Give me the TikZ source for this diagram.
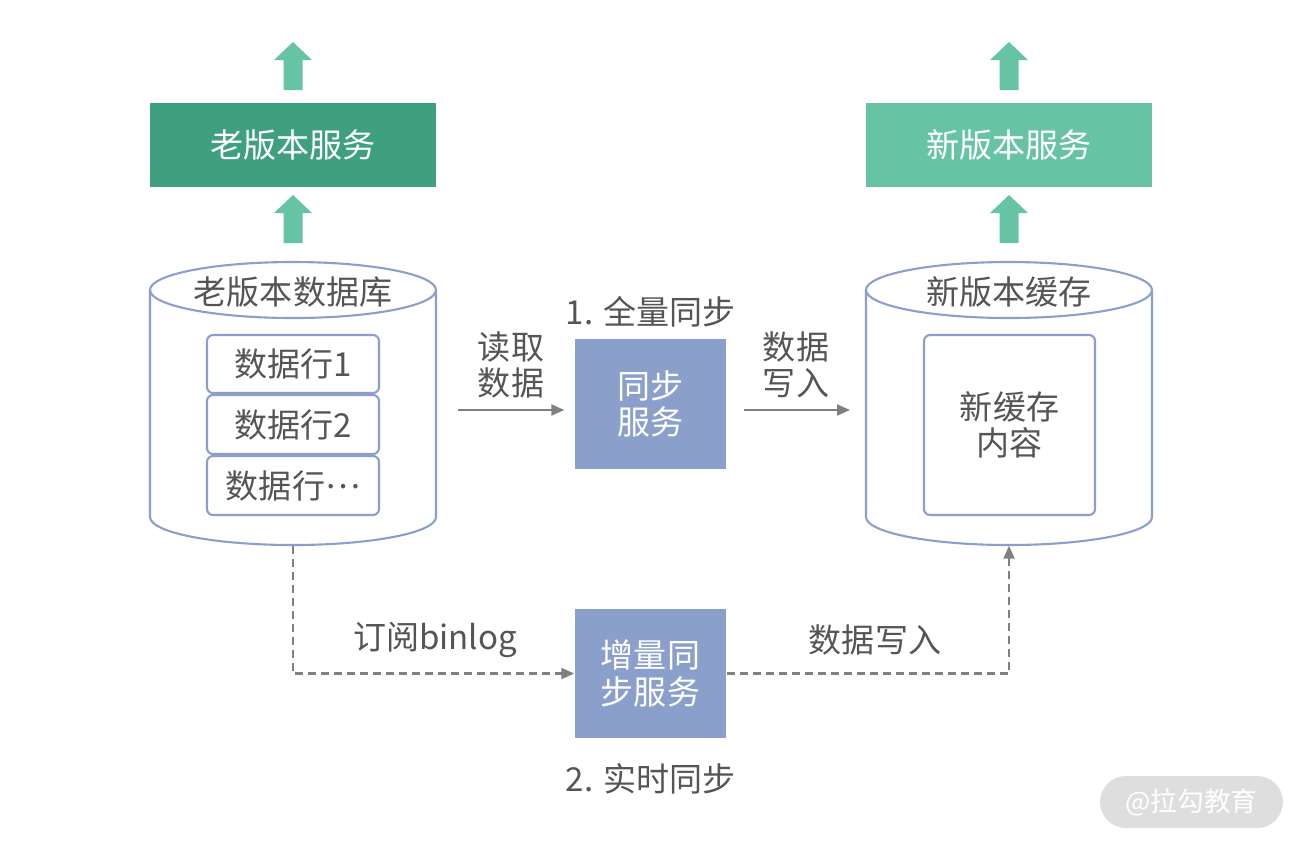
\documentclass[tikz,border=0pt]{standalone}
\usepackage{fontspec}
\setmainfont{Noto Sans CJK SC}
\usetikzlibrary{positioning,arrows.meta}
\definecolor{oldgreen}{HTML}{3FA07F}
\definecolor{newgreen}{HTML}{66C4A5}
\definecolor{syncblue}{HTML}{8B9FCB}
\definecolor{cylline}{HTML}{8C9FCC}
\definecolor{txtgray}{HTML}{555555}
\definecolor{flowgray}{HTML}{808080}
\definecolor{wmgray}{HTML}{DEDEDE}
\tikzset{
  txt/.style={text=txtgray,font=\fontsize{9.4pt}{10.3pt}\selectfont,align=center},
  svcbox/.style={txt,text=white,minimum width=2.86cm,minimum height=0.84cm,inner sep=0pt},
  syncbox/.style={txt,text=white,fill=syncblue,minimum width=1.51cm,minimum height=1.30cm,inner sep=0pt},
  rowbox/.style={txt,draw=cylline,line width=0.6pt,fill=white,rounded corners=0.06cm,minimum width=1.72cm,inner sep=0pt},
  cyl/.style={draw=cylline,line width=0.6pt,fill=white},
  flow/.style={draw=flowgray,line width=0.6pt,-{Triangle[length=0.13cm,width=0.11cm]}},
  dflow/.style={flow,dash pattern=on 0.08cm off 0.05cm},
  uparr/.pic={\fill[newgreen] (-0.095,0) -- (-0.095,0.30) -- (-0.19,0.30) -- (0,0.48) -- (0.19,0.30) -- (0.095,0.30) -- (0.095,0) -- cycle;}
}
\begin{document}
\begin{tikzpicture}
\useasboundingbox (0,0) rectangle (13,-8.45);
\node[svcbox,fill=oldgreen] (oldsvc) at (2.93,-1.45) {老版本服务};
\node[svcbox,fill=newgreen] (newsvc) at (10.09,-1.45) {新版本服务};
\pic at (2.93,-0.90) {uparr};
\pic at (10.09,-0.90) {uparr};
\pic at (2.93,-2.43) {uparr};
\pic at (10.09,-2.43) {uparr};
\draw[cyl] (1.50,-2.90) -- (1.50,-5.17) arc[start angle=180,end angle=360,x radius=1.43,y radius=0.28] -- (4.36,-2.90);
\draw[cyl] (2.93,-2.90) ellipse[x radius=1.43,y radius=0.28];
\draw[cyl] (8.66,-2.90) -- (8.66,-5.17) arc[start angle=180,end angle=360,x radius=1.43,y radius=0.28] -- (11.52,-2.90);
\draw[cyl] (10.09,-2.90) ellipse[x radius=1.43,y radius=0.28];
\node[minimum width=2.86cm,minimum height=2.83cm,inner sep=0pt] (olddb) at (2.93,-4.035) {};
\node[minimum width=2.86cm,minimum height=2.83cm,inner sep=0pt] (newdb) at (10.09,-4.035) {};
\node[txt] (olddbt) at (2.93,-2.92) {老版本数据库};
\node[txt] (newdbt) at (10.09,-2.92) {新版本缓存};
\node[rowbox,minimum height=0.58cm] (row1) at (2.93,-3.64) {数据行1};
\node[rowbox,minimum height=0.59cm] (row2) at (2.93,-4.245) {数据行2};
\node[rowbox,minimum height=0.59cm] (row3) at (2.93,-4.855) {数据行\raisebox{0.3em}{…}};
\node[rowbox,minimum width=1.71cm,minimum height=1.80cm] (newcont) at (10.095,-4.25) {新缓存\\内容};
\node[syncbox] (fullsync) at (6.505,-4.04) {同步\\服务};
\node[syncbox,minimum height=1.29cm] (incsync) at (6.505,-6.735) {增量同\\步服务};
\node[txt] (fulllbl) at (6.505,-3.12) {1. 全量同步};
\node[txt] (inclbl) at (6.505,-7.79) {2. 实时同步};
\coordinate (rdfrom) at (4.58,-4.10);
\coordinate (wrto) at (8.50,-4.10);
\draw[flow,shorten >=0.1cm] (rdfrom) -- (rdfrom -| fullsync.west);
\draw[flow,shorten <=0.17cm] (fullsync.east |- wrto) -- (wrto);
\node[txt] (rdlbl) at (5.11,-3.65) {读取\\数据};
\node[txt] (wrlbl) at (7.96,-3.65) {数据\\写入};
\draw[dflow] (olddb.south) |- (incsync.west);
\draw[dflow] (incsync.east) -| (newdb.south);
\node[txt] (binlbl) at (4.35,-6.40) {订阅binlog};
\node[txt] (incwr) at (8.75,-6.40) {数据写入};
\node[text=white,fill=wmgray,rounded corners=0.26cm,minimum width=1.83cm,minimum height=0.52cm,font=\fontsize{7.6pt}{9pt}\selectfont] (wm) at (11.915,-8.02) {@拉勾教育};
\end{tikzpicture}
\end{document}
